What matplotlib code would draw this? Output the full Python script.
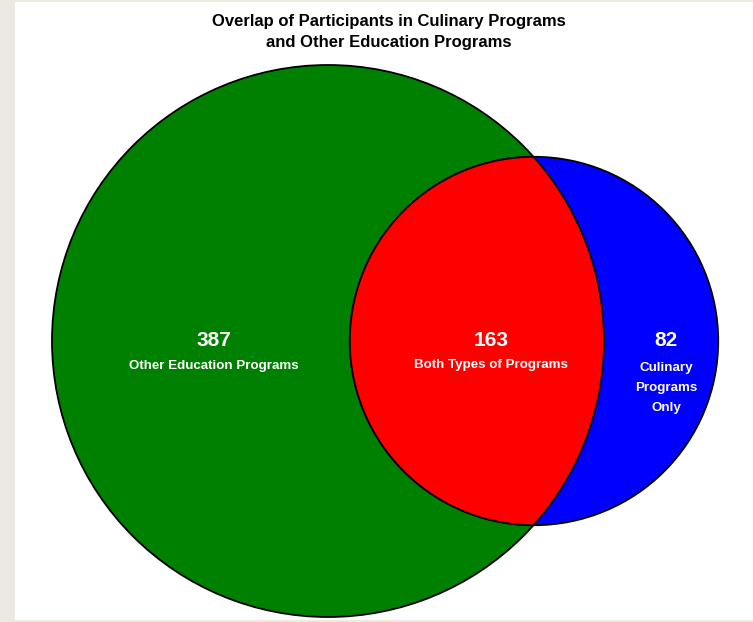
import numpy as np
import matplotlib.pyplot as plt
from matplotlib.patches import Circle, Rectangle, PathPatch
from matplotlib.path import Path

# region counts
other_only = 387
both = 163
culinary_only = 82
region_labels = ["Other Education Programs", "Both Types of Programs", "Culinary\nPrograms\nOnly"]
title = "Overlap of Participants in Culinary Programs\nand Other Education Programs"

plt.rcParams['font.family'] = ['Liberation Sans', 'DejaVu Sans']

W, H = 753, 622
fig = plt.figure(figsize=(W / 100, H / 100), dpi=100, facecolor='#ece9e1')
ax = fig.add_axes([0, 0, 1, 1])
ax.set_xlim(0, W)
ax.set_ylim(H, 0)
ax.axis('off')
ax.add_patch(Rectangle((15, 2), W - 15, 618, facecolor='white', edgecolor='none'))

# area-proportional circles
area_a = other_only + both
area_b = culinary_only + both
scale = 276 / np.sqrt(area_a / np.pi)
r1 = scale * np.sqrt(area_a / np.pi)
r2 = scale * np.sqrt(area_b / np.pi)


def lens_area(d, r1, r2):
    a1 = (d * d + r1 * r1 - r2 * r2) / (2 * d)
    a2 = d - a1
    h = np.sqrt(max(r1 * r1 - a1 * a1, 0))
    return r1 * r1 * np.arccos(a1 / r1) - a1 * h + r2 * r2 * np.arccos(np.clip(a2 / r2, -1, 1)) - a2 * h


target = both * scale ** 2
lo, hi = r1 - r2 + 1e-6, r1 + r2 - 1e-6
for _ in range(100):
    mid = (lo + hi) / 2
    if lens_area(mid, r1, r2) > target:
        lo = mid
    else:
        hi = mid
d = (lo + hi) / 2

cx1, cy = 328, 341
cx2 = cx1 + d

ax.add_patch(Circle((cx1, cy), r1, facecolor='#008000', edgecolor='black', lw=1.3))
ax.add_patch(Circle((cx2, cy), r2, facecolor='#0000ff', edgecolor='black', lw=1.3))

# lens (intersection)
a1 = (d * d + r1 * r1 - r2 * r2) / (2 * d)
h = np.sqrt(r1 * r1 - a1 * a1)
t1 = np.arctan2(h, a1)
ang1 = np.linspace(-t1, t1, 200)
pts1 = np.column_stack([cx1 + r1 * np.cos(ang1), cy + r1 * np.sin(ang1)])
t2 = np.arctan2(h, a1 - d)
ang2 = np.linspace(t2, 2 * np.pi - t2, 200)
pts2 = np.column_stack([cx2 + r2 * np.cos(ang2), cy + r2 * np.sin(ang2)])
verts = np.vstack([pts1, pts2, pts1[:1]])
codes = [Path.MOVETO] + [Path.LINETO] * (len(verts) - 2) + [Path.CLOSEPOLY]
ax.add_patch(PathPatch(Path(verts, codes), facecolor='#ff0000', edgecolor='black', lw=1.3))

# labels
txt = dict(color='white', fontweight='bold', ha='center', va='center')
ax.text(214, 341, str(other_only), fontsize=15, **txt)
ax.text(214, 366, region_labels[0], fontsize=9.6, **txt)
ax.text(491, 341, str(both), fontsize=15, **txt)
ax.text(491, 365, region_labels[1], fontsize=9.6, **txt)
ax.text(666, 341, str(culinary_only), fontsize=15, **txt)
ax.text(666, 388, region_labels[2], fontsize=9.6, linespacing=1.86, **txt)

ax.text(389, 32, title, fontsize=12, fontweight='bold', ha='center', va='center', linespacing=1.43)

fig.savefig('out.png', dpi=100, facecolor=fig.get_facecolor())
